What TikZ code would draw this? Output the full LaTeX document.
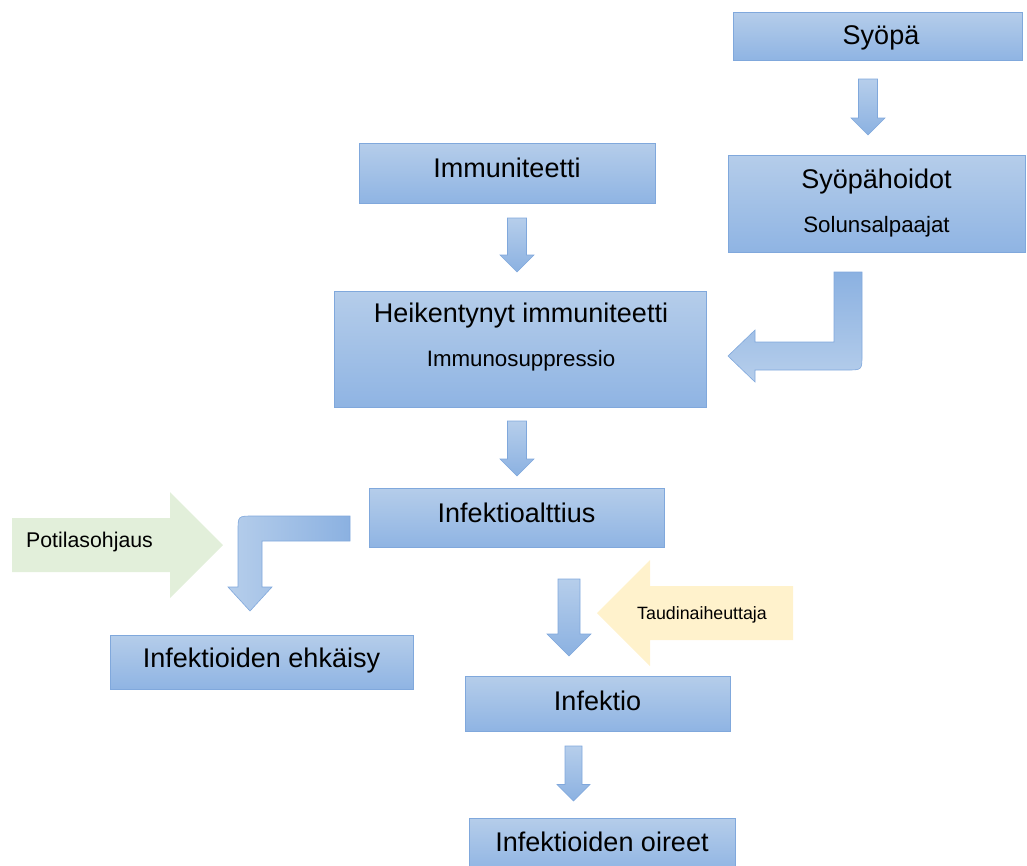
\documentclass[tikz,border=0pt]{standalone}
\usepackage{fontspec}
\setmainfont{Liberation Sans}

\definecolor{boxtop}{RGB}{181,205,234}
\definecolor{boxbot}{RGB}{143,180,227}
\definecolor{boxline}{RGB}{128,168,220}
\definecolor{arrtop}{RGB}{182,206,235}
\definecolor{arrbot}{RGB}{139,177,225}
\definecolor{greenarr}{RGB}{226,239,218}
\definecolor{yellowarr}{RGB}{255,242,204}

\tikzset{
  box/.style={draw=boxline, line width=0.8pt, top color=boxtop, bottom color=boxbot, inner sep=0pt},
  title/.style={font=\fontsize{27}{30}\selectfont, inner sep=0pt},
  sub/.style={font=\fontsize{22.3}{24}\selectfont, inner sep=0pt},
  arrowfill/.style={draw=boxline, line width=0.6pt, top color=arrtop, bottom color=arrbot},
  pics/blockdown/.style n args={3}{code={
    \shade[arrowfill] (-#2,0) -- (#2,0) -- (#2,#1-#3) -- (#3,#1-#3) -- (0,#1)
      -- (-#3,#1-#3) -- (-#2,#1-#3) -- cycle;
  }}
}

\begin{document}
\begin{tikzpicture}[x=1pt,y=-1pt]
\useasboundingbox (0,0) rectangle (1027,865);

% boxes
\node[box, minimum width=289pt, minimum height=48pt] (syopa) at (877.5,36) {};
\node[box, minimum width=297pt, minimum height=97pt] (hoidot) at (876.5,203.5) {};
\node[box, minimum width=296pt, minimum height=60pt] (immun) at (507,173) {};
\node[box, minimum width=372pt, minimum height=116pt] (heik) at (520,349) {};
\node[box, minimum width=295pt, minimum height=59pt] (altt) at (516.5,517.5) {};
\node[box, minimum width=303pt, minimum height=54pt] (ehk) at (261.5,662) {};
\node[box, minimum width=265pt, minimum height=55pt] (infektio) at (597.5,703.5) {};
\node[box, minimum width=266pt, minimum height=55pt] (oireet) at (602,845.5) {};

% texts
\node[title] (syopatxt) at (881,38) {Syöpä};
\node[title] (hoidottxt) at (876.5,182) {Syöpähoidot};
\node[sub] (hoidotsub) at (876.5,227) {Solunsalpaajat};
\node[title] (immuntxt) at (507,168) {Immuniteetti};
\node[title] (heiktxt) at (521,316) {Heikentynyt immuniteetti};
\node[sub] (heiksub) at (521,361) {Immunosuppressio};
\node[title] (allttxt) at (516.5,513) {Infektioalttius};
\node[title] (ehktxt) at (261.5,661) {Infektioiden ehkäisy};
\node[title] (infektiotxt) at (597.5,701) {Infektio};
\node[title] (oireettxt) at (602,842) {Infektioiden oireet};

% straight block arrows
\pic at (868,79) {blockdown={56}{9.5}{17}};
\pic at (517,218) {blockdown={54}{9.5}{17}};
\pic at (517,421) {blockdown={55}{9.5}{17}};
\pic at (569,579) {blockdown={77}{11}{22}};
\pic at (573.5,746) {blockdown={55}{8.5}{16.5}};

% bent arrow: syopahoidot -> heikentynyt
\shade[draw=boxline, line width=0.6pt, top color=arrbot, bottom color=arrtop]
  (834,272) -- (862,272) -- (862,355) .. controls (862,370) .. (847,370)
  -- (755,370) -- (755,382) -- (728,356) -- (755,330) -- (755,342)
  -- (834,342) -- cycle;

% bent arrow: alttius -> ehkaisy
\shade[draw=boxline, line width=0.6pt, left color=arrtop, right color=arrbot]
  (350,516) -- (253,516) .. controls (238,516) .. (238,531) -- (238,587)
  -- (228,587) -- (250,611) -- (272,587) -- (262,587) -- (262,541)
  -- (350,541) -- cycle;

% side arrows
\fill[greenarr] (12,518) -- (170,518) -- (170,492) -- (223,545) -- (170,598)
  -- (170,572) -- (12,572) -- cycle;
\node[font=\fontsize{21.3}{24}\selectfont, anchor=west, inner sep=0pt] (ohjaus) at (26,542) {Potilasohjaus};

\fill[yellowarr] (793,586) -- (650,586) -- (650,560) -- (597,613) -- (650,666)
  -- (650,640) -- (793,640) -- cycle;
\node[font=\fontsize{17.8}{20}\selectfont, anchor=west, inner sep=0pt] (aiheuttaja) at (637,615) {Taudinaiheuttaja};
\end{tikzpicture}
\end{document}
